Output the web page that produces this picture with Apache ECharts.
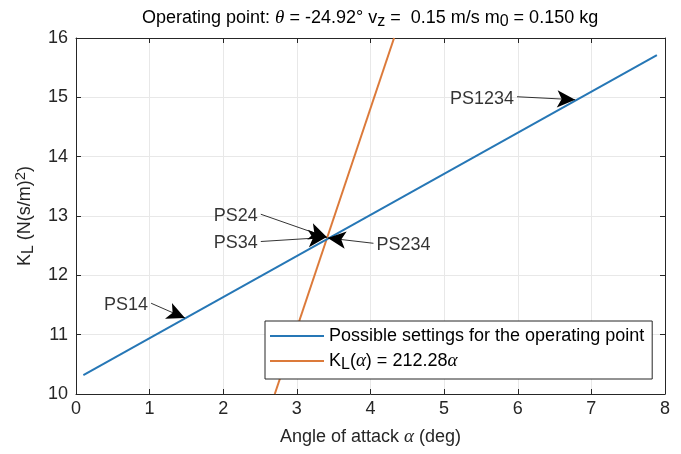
<!DOCTYPE html>
<html><head><meta charset="utf-8">
<script src="https://cdn.jsdelivr.net/npm/echarts@6/dist/echarts.min.js"></script>
<style>html,body{margin:0;padding:0;background:#fff}#c{width:681px;height:454px}</style>
</head><body><div id="c"></div>
<script>
// ---- data ----
const blueAlpha = [0.10, 7.89];
const blueK = [10.32, 15.71];
const orangeAlpha = [2.70, 4.32];
const orangeK = [10.0, 16.0];
const annLabels = ['PS1234', 'PS24', 'PS34', 'PS234', 'PS14'];
const annTailX = [5.99, 2.51, 2.51, 4.04, 1.02];
const annTailY = [15.01, 13.03, 12.57, 12.54, 11.53];
const annHeadX = [6.78, 3.41, 3.40, 3.42, 1.48];
const annHeadY = [14.96, 12.64, 12.64, 12.63, 11.28];
const annSide = ['left', 'left', 'left', 'right', 'left'];
const xMin = 0, xMax = 8, xStep = 1;
const yMin = 10, yMax = 16, yStep = 1;
const blueName = 'Possible settings for the operating point';
const orangeName = 'K_L(α) = 212.28α';

const FONT = 'Liberation Sans, Arial, Helvetica, sans-serif';
const SERIF = 'Liberation Serif, DejaVu Serif, serif';
const TXT = '#262626';
const FS = 18, LH = 24;
function richFor(color) {
  return {
    n: {fontFamily: FONT, fontSize: FS, color: color, lineHeight: LH},
    it: {fontFamily: SERIF, fontStyle: 'italic', fontSize: FS + 1, color: color, lineHeight: LH},
    sub: {fontFamily: FONT, fontSize: FS - 2, color: color, lineHeight: 12, verticalAlign: 'bottom'},
    sup: {fontFamily: FONT, fontSize: FS - 3, color: color, lineHeight: 12, verticalAlign: 'top'}
  };
}
const BLUE = '#2677b6', ORANGE = '#dc7a3a';

const chart = echarts.init(document.getElementById('c'), null, {renderer: 'canvas'});
const blueData = blueAlpha.map((a, i) => [a, blueK[i]]);
const orangeData = orangeAlpha.map((a, i) => [a, orangeK[i]]);
const arrowData = annLabels.map((l, i) => [
  {coord: [annTailX[i], annTailY[i]], symbol: 'none'},
  {coord: [annHeadX[i], annHeadY[i]], symbol: 'arrow'}
]);
const textData = annLabels.map((l, i) => ({
  value: [annTailX[i], annTailY[i]],
  label: {position: annSide[i], formatter: l}
}));

const axCommon = {
  axisLine: {show: true, onZero: false, lineStyle: {color: TXT, width: 1}},
  axisTick: {show: true, inside: true, length: 5, lineStyle: {color: TXT}},
};

chart.setOption({
  animation: false,
  backgroundColor: '#fff',
  textStyle: {fontFamily: FONT},
  title: {
    left: 142, top: 6, padding: 0,
    text: '{n|Operating point: }{it|θ}{n| = -24.92° v}{sub|z}{n| =  0.15 m/s m}{sub|0}{n| = 0.150 kg}',
    textStyle: {fontFamily: FONT, fontSize: FS, fontWeight: 'normal', color: '#000', lineHeight: LH, rich: richFor('#000')}
  },
  grid: {left: 76, right: 16, top: 38, bottom: 59, containLabel: false},
  legend: {
    left: 265, top: 321, orient: 'vertical',
    data: [blueName, orangeName],
    icon: 'rect', itemWidth: 54, itemHeight: 2, itemGap: 1,
    padding: [3, 8, 6, 5],
    backgroundColor: '#fff', borderColor: TXT, borderWidth: 1, borderRadius: 0,
    textStyle: {fontFamily: FONT, fontSize: FS, color: '#000', lineHeight: LH, rich: richFor('#000')},
    formatter: n => n === blueName ? '{n|' + n + '}' : '{n|K}{sub|L}{n|(}{it|α}{n|) = 212.28}{it|α}'
  },
  xAxis: [Object.assign({
    type: 'value', min: xMin, max: xMax, interval: xStep,
    name: '{n|Angle of attack }{it|α}{n| (deg)}', nameLocation: 'middle', nameGap: 31,
    nameTextStyle: {fontFamily: FONT, fontSize: FS, color: TXT, lineHeight: LH, rich: richFor(TXT)},
    axisLabel: {fontFamily: FONT, fontSize: FS, color: TXT, margin: 6},
    splitLine: {show: true, lineStyle: {color: '#e8e8e8', width: 1}}
  }, axCommon), Object.assign({
    type: 'value', min: xMin, max: xMax, interval: xStep, position: 'top',
    axisLabel: {show: false}, splitLine: {show: false}
  }, axCommon)],
  yAxis: [Object.assign({
    type: 'value', min: yMin, max: yMax, interval: yStep,
    name: '{n|K}{sub|L}{n| (N(s/m)}{sup|2}{n|)}', nameLocation: 'middle', nameGap: 36,
    nameTextStyle: {fontFamily: FONT, fontSize: FS, color: TXT, lineHeight: LH, rich: richFor(TXT)},
    axisLabel: {fontFamily: FONT, fontSize: FS, color: TXT, margin: 8},
    splitLine: {show: true, lineStyle: {color: '#e8e8e8', width: 1}}
  }, axCommon), Object.assign({
    type: 'value', min: yMin, max: yMax, interval: yStep, position: 'right',
    axisLabel: {show: false}, splitLine: {show: false}
  }, axCommon)],
  series: [
    {name: blueName, type: 'line', data: blueData, symbol: 'none',
     lineStyle: {color: BLUE, width: 2}, itemStyle: {color: BLUE}, z: 3},
    {name: orangeName, type: 'line', data: orangeData, symbol: 'none',
     lineStyle: {color: ORANGE, width: 2}, itemStyle: {color: ORANGE}, z: 2},
    {name: 'annotations', type: 'scatter', data: textData, symbolSize: 0, z: 5,
     label: {show: true, fontFamily: FONT, fontSize: FS, color: '#000', distance: 3, offset: [0, 2]},
     markLine: {silent: true, animation: false, symbolSize: [13, 18],
       lineStyle: {color: '#000', width: 0.8, type: 'solid'},
       label: {show: false}, emphasis: {disabled: true},
       data: arrowData}}
  ]
});
</script></body></html>
